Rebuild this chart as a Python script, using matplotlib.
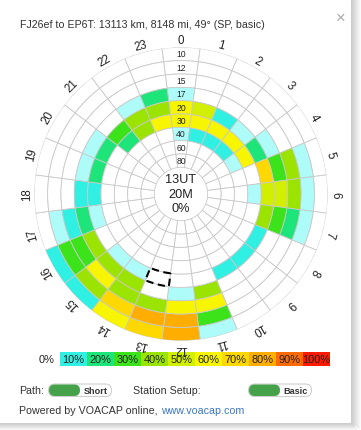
import numpy as np
import matplotlib
matplotlib.use("Agg")
import matplotlib.pyplot as plt
from matplotlib.patches import Rectangle, FancyBboxPatch

plt.rcParams['font.family'] = ['Liberation Sans', 'DejaVu Sans']

# ---------------- data ----------------
hours = list(range(24))
bands = ['10', '12', '15', '17', '20', '30', '40', '60', '80']   # outer -> inner
# reliability (%) per hour, columns follow `bands`
rel_h00 = [0, 0, 0, 5, 60, 60, 5, 0, 0]
rel_h01 = [0, 0, 0, 0, 50, 60, 10, 0, 0]
rel_h02 = [0, 0, 0, 0, 10, 60, 10, 0, 0]
rel_h03 = [0, 0, 0, 0, 5, 60, 10, 0, 0]
rel_h04 = [0, 0, 0, 5, 20, 60, 5, 0, 0]
rel_h05 = [0, 5, 40, 30, 70, 0, 0, 0, 0]
rel_h06 = [0, 5, 40, 50, 50, 5, 0, 0, 0]
rel_h07 = [0, 5, 20, 30, 40, 0, 0, 0, 0]
rel_h08 = [0, 0, 0, 0, 10, 0, 0, 0, 0]
rel_h09 = [0, 0, 0, 0, 10, 0, 0, 0, 0]
rel_h10 = [0, 0, 0, 0, 10, 0, 0, 0, 0]
rel_h11 = [5, 30, 60, 40, 0, 0, 0, 0, 0]
rel_h12 = [80, 80, 60, 5, 0, 0, 0, 0, 0]
rel_h13 = [70, 80, 40, 0, 0, 0, 0, 0, 0]
rel_h14 = [60, 70, 40, 40, 5, 0, 0, 0, 0]
rel_h15 = [10, 40, 60, 40, 5, 0, 0, 0, 0]
rel_h16 = [10, 30, 30, 40, 0, 0, 0, 0, 0]
rel_h17 = [0, 5, 10, 20, 5, 0, 0, 0, 0]
rel_h18 = [0, 0, 0, 10, 10, 0, 0, 0, 0]
rel_h19 = [0, 0, 0, 5, 20, 0, 0, 0, 0]
rel_h20 = [0, 0, 0, 5, 20, 0, 0, 0, 0]
rel_h21 = [0, 0, 0, 0, 30, 20, 0, 0, 0]
rel_h22 = [0, 0, 0, 5, 40, 40, 0, 0, 0]
rel_h23 = [0, 0, 0, 20, 40, 60, 0, 0, 0]
reliability = [rel_h00, rel_h01, rel_h02, rel_h03, rel_h04, rel_h05, rel_h06, rel_h07,
               rel_h08, rel_h09, rel_h10, rel_h11, rel_h12, rel_h13, rel_h14, rel_h15,
               rel_h16, rel_h17, rel_h18, rel_h19, rel_h20, rel_h21, rel_h22, rel_h23]

scale_labels = ['0%', '10%', '20%', '30%', '40%', '50%', '60%', '70%', '80%', '90%', '100%']
selected_hour = 13
selected_band = '20'
center_lines = ['13UT', '20M', '0%']
title = 'FJ26ef to EP6T: 13113 km, 8148 mi, 49° (SP, basic)'

palette = {0: '#ffffff', 5: '#aefcf9', 10: '#2ff0e2', 20: '#1ee57a', 30: '#3ce21a',
           40: '#9be300', 50: '#d2ef00', 60: '#f7f500', 70: '#ffd800', 80: '#ffae00',
           90: '#ff6a00', 100: '#ff1a00'}

def colour(v):
    if v <= 0:
        return palette[0]
    if v < 10:
        return palette[5]
    return palette[min(100, int(v // 10) * 10)]

# ---------------- figure ----------------
W, H = 361, 431
fig = plt.figure(figsize=(W / 100, H / 100), dpi=100)
fig.patch.set_facecolor('white')

bg = fig.add_axes([0, 0, 1, 1])
bg.set_xlim(0, W)
bg.set_ylim(H, 0)
bg.axis('off')

# card shadow (right / bottom)
for i in range(10):
    g = 0.80 + 0.02 * i
    bg.add_patch(Rectangle((351 + i, 0), 1, 425 + i * 0.6, color=(g, g, g), lw=0))
for i in range(7):
    g = 0.80 + 0.028 * i
    bg.add_patch(Rectangle((0, 424 + i), 352 + i, 1, color=(g, g, g), lw=0))

TXT = 7.7
bg.text(20, 25, title, fontsize=TXT, color='#333333', va='center', ha='left')
bg.text(341, 18, '×', fontsize=12, color='#aaaaaa', va='center', ha='center')

# ---------------- polar chart ----------------
cx, cy, R = 181, 195, 146.7
ax = fig.add_axes([(cx - R) / W, (H - cy - R) / H, 2 * R / W, 2 * R / H], projection='polar')
ax.set_theta_zero_location('N')
ax.set_theta_direction(-1)
ax.set_ylim(0, 11)
ax.set_axis_off()

width = 2 * np.pi / 24
for h, row in zip(hours, reliability):
    th = np.deg2rad(h * 15)
    for i, v in enumerate(row):
        bottom = 10 - i
        ax.bar(th, 1, width=width, bottom=bottom, color=colour(v),
               edgecolor='#c9c9c9', linewidth=0.6, align='center')

# selected cell (dashed)
bi = bands.index(selected_band)
ax.bar(np.deg2rad(selected_hour * 15), 1, width=width, bottom=10 - bi, fill=False,
       edgecolor='black', linewidth=1.5, linestyle=(0, (3.5, 2.2)), align='center', zorder=5)

# hour labels
for h in hours:
    ax.text(np.deg2rad(h * 15), 11.55, str(h), rotation=-h * 15, ha='center', va='center',
            rotation_mode='anchor', fontsize=8.3, color='#222222')

# band labels in the hour-0 column
for i, b in enumerate(bands):
    ax.text(0, 10.5 - i, b, ha='center', va='center', fontsize=6.2, color='#222222')

for k, line in enumerate(center_lines):
    bg.text(cx, 180.5 + k * 14.3, line, ha='center', va='center', fontsize=9.2, color='#222222')

# ---------------- colour scale ----------------
bx0, bw, by, bh = 60, 27.0, 353, 14
bg.text(47, by + bh / 2 + 0.5, scale_labels[0], ha='center', va='center', fontsize=7.9, color='#222222')
for k, lab in enumerate(scale_labels[1:]):
    v = (k + 1) * 10
    bg.add_patch(Rectangle((bx0 + k * bw, by), bw, bh, color=palette[v], lw=0))
    bg.text(bx0 + k * bw + bw / 2, by + bh / 2 + 0.5, lab, ha='center', va='center',
            fontsize=7.9, color='#222222')

# ---------------- toggles / footer ----------------
def toggle(x0, label):
    bg.add_patch(FancyBboxPatch((x0, 385), 63, 12.5, boxstyle='round,pad=0,rounding_size=6.2',
                                facecolor='white', edgecolor='#cfcfcf', lw=0.8))
    bg.add_patch(FancyBboxPatch((x0 + 0.5, 385.5), 31, 11.5, boxstyle='round,pad=0,rounding_size=5.7',
                                facecolor='#46a24a', edgecolor='none'))
    bg.text(x0 + 47.5, 391.5, label, ha='center', va='center', fontsize=6.6,
            fontweight='bold', color='#333333')

bg.text(19, 391.5, 'Path:', ha='left', va='center', fontsize=TXT, color='#333333')
toggle(48.5, 'Short')
bg.text(133, 391.5, 'Station Setup:', ha='left', va='center', fontsize=TXT, color='#333333')
toggle(248.5, 'Basic')
t1 = bg.text(19, 411, 'Powered by VOACAP online,', ha='left', va='center', fontsize=TXT, color='#333333')
fig.canvas.draw()
bb = t1.get_window_extent()
x_end = bb.x1 * 361 / fig.bbox.width
bg.text(x_end + 4, 411, 'www.voacap.com', ha='left', va='center', fontsize=TXT, color='#3a78c2')

fig.savefig('out.png', dpi=100, facecolor='white')
